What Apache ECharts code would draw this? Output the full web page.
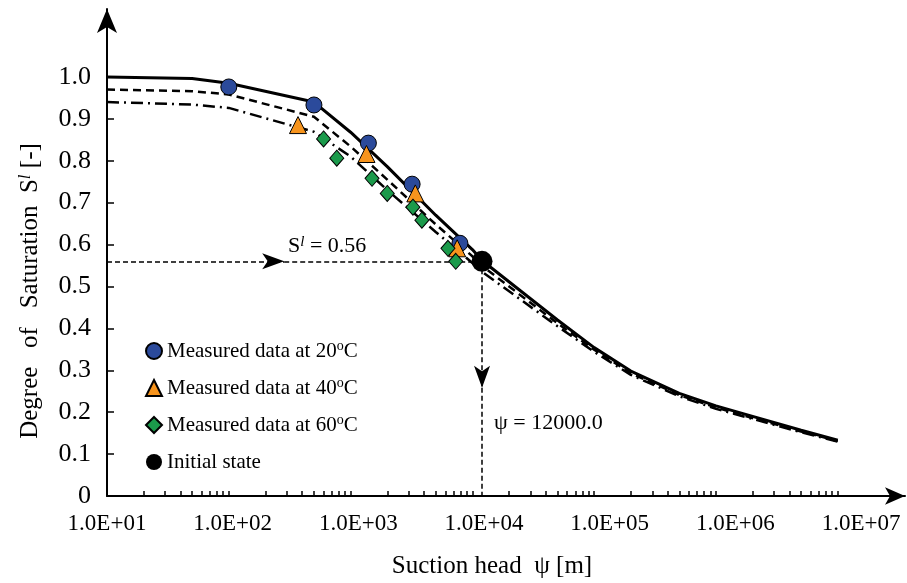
<!DOCTYPE html>
<html><head><meta charset="utf-8">
<script src="https://cdn.jsdelivr.net/npm/echarts@6/dist/echarts.min.js"></script>
<style>html,body{margin:0;padding:0;background:#fff}#c{width:907px;height:583px}</style>
</head><body><div id="c"></div>
<script>
// ---- data ----
const psiModel = [10, 50, 100, 500, 1000, 2000, 5000, 10000, 12000, 50000, 100000, 200000, 500000, 1000000, 2000000, 5000000, 10000000];
const s20Model = [1.000, 0.996, 0.985, 0.940, 0.868, 0.786, 0.670, 0.588, 0.562, 0.420, 0.354, 0.298, 0.245, 0.215, 0.190, 0.157, 0.133];
const s40Model = [0.970, 0.966, 0.958, 0.905, 0.834, 0.755, 0.648, 0.572, 0.549, 0.412, 0.349, 0.293, 0.241, 0.211, 0.186, 0.154, 0.131];
const s60Model = [0.940, 0.934, 0.926, 0.869, 0.810, 0.730, 0.630, 0.556, 0.535, 0.405, 0.344, 0.289, 0.238, 0.208, 0.184, 0.152, 0.130];

const psi20 = [100, 500, 1400, 3200, 7900];
const s20 = [0.976, 0.933, 0.842, 0.744, 0.603];
const psi40 = [370, 1350, 3400, 7500];
const s40 = [0.885, 0.816, 0.722, 0.591];
const psi60 = [600, 770, 1500, 2000, 3250, 3850, 6300, 7300];
const s60 = [0.852, 0.806, 0.758, 0.722, 0.689, 0.658, 0.591, 0.560];
const psiInit = [12000];
const sInit = [0.56];

const guideArrowPsi = 285;   // arrow tip on the horizontal guide
const guideArrowS = 0.258;   // arrow tip on the vertical guide
const xLabelValues = [1e1, 1e2, 1e3, 1e4, 1e5, 1e6, 1e7];
const xTickLabels = ['1.0E+01', '1.0E+02', '1.0E+03', '1.0E+04', '1.0E+05', '1.0E+06', '1.0E+07'];
const yTickValues = [0, 0.1, 0.2, 0.3, 0.4, 0.5, 0.6, 0.7, 0.8, 0.9, 1.0];
const yTickLabels = ['0', '0.1', '0.2', '0.3', '0.4', '0.5', '0.6', '0.7', '0.8', '0.9', '1.0'];

// minor ticks 2..10 x 10^k
const xMinorTicks = [];
for (let k = 1; k <= 6; k++) for (let m = 2; m <= 10; m++) xMinorTicks.push(m * Math.pow(10, k));

const zip = (a, b) => a.map((v, i) => [v, b[i]]);
const FONT = "'Liberation Serif','Times New Roman',serif";

const chart = echarts.init(document.getElementById('c'), null, {renderer: 'canvas'});
chart.setOption({
  backgroundColor: '#fff',
  animation: false,
  grid: {left: 107, right: 2, top: 9, bottom: 87},
  xAxis: [{
    type: 'log', logBase: 10, min: 10, max: Math.pow(10, 7.552),
    axisLine: {show: true, symbol: ['none', 'arrow'], symbolSize: [13, 20], lineStyle: {color: '#000', width: 2}},
    axisTick: {show: true, inside: true, length: 5, customValues: xMinorTicks, lineStyle: {color: '#000', width: 1.5}},
    axisLabel: {show: false},
    splitLine: {show: false}
  }, {
    type: 'log', logBase: 10, min: 10, max: Math.pow(10, 7.35), position: 'bottom',
    axisLine: {show: false}, axisTick: {show: false}, splitLine: {show: false},
    axisLabel: {show: true, customValues: xLabelValues, margin: 16, color: '#000', fontFamily: FONT, fontSize: 23,
      formatter: v => xTickLabels[Math.round(Math.log10(v)) - 1]}
  }],
  yAxis: {
    type: 'value', min: 0, max: 1.162,
    axisLine: {show: true, symbol: ['none', 'arrow'], symbolSize: [15, 24], lineStyle: {color: '#000', width: 2}},
    axisTick: {show: true, inside: true, length: 7, customValues: yTickValues, lineStyle: {color: '#000', width: 1.5}},
    axisLabel: {show: true, customValues: yTickValues, margin: 16, color: '#000', fontFamily: FONT, fontSize: 26,
      formatter: v => yTickLabels[Math.round(v * 10)]},
    splitLine: {show: false}
  },
  legend: {
    orient: 'vertical', left: 140, top: 334, itemGap: 13, itemWidth: 16, itemHeight: 16,
    data: ['Measured data at 20°C', 'Measured data at 40°C', 'Measured data at 60°C', 'Initial state'],
    formatter: name => name.replace(/(\d+)°C/, '$1{sup|o}C'),
    textStyle: {color: '#000', fontFamily: FONT, fontSize: 21, lineHeight: 24,
      rich: {sup: {fontFamily: FONT, fontSize: 14, color: '#000', verticalAlign: 'top', lineHeight: 12}}}
  },
  graphic: [
    {type: 'text', x: 30, y: 291, rotation: Math.PI / 2, z: 10,
      style: {text: 'Degree   of   Saturation  S{sup|l} [-]', fill: '#000', font: '25px ' + FONT, align: 'center', verticalAlign: 'middle',
        rich: {sup: {fontFamily: FONT, fontSize: 17, fontStyle: 'italic', verticalAlign: 'top', fill: '#000'}}}},
    {type: 'text', x: 492, y: 566, z: 10,
      style: {text: 'Suction head  ψ [m]', fill: '#000', font: '25px ' + FONT, align: 'center', verticalAlign: 'middle'}},
    {type: 'text', x: 288, y: 246, z: 10,
      style: {text: 'S{sup|l} = 0.56', fill: '#000', font: '22px ' + FONT, align: 'left', verticalAlign: 'middle',
        rich: {sup: {fontFamily: FONT, fontSize: 15, fontStyle: 'italic', verticalAlign: 'top', fill: '#000'}}}},
    {type: 'text', x: 494, y: 423, z: 10,
      style: {text: 'ψ = 12000.0', fill: '#000', font: '22px ' + FONT, align: 'left', verticalAlign: 'middle'}}
  ],
  series: [
    {name: 'model20', type: 'line', data: zip(psiModel, s20Model), symbol: 'none', z: 2,
      lineStyle: {color: '#000', width: 3}},
    {name: 'model40', type: 'line', data: zip(psiModel, s40Model), symbol: 'none', z: 2,
      lineStyle: {color: '#000', width: 2.5, type: [8, 5]}},
    {name: 'model60', type: 'line', data: zip(psiModel, s60Model), symbol: 'none', z: 2,
      lineStyle: {color: '#000', width: 2.5, type: [12, 5, 2, 5]}},
    {name: 'Measured data at 20°C', type: 'scatter', data: zip(psi20, s20), symbol: 'circle', symbolSize: 16, z: 5,
      itemStyle: {color: '#2b4a9b', borderColor: '#000', borderWidth: 1, opacity: 1}},
    {name: 'Measured data at 40°C', type: 'scatter', data: zip(psi40, s40), symbol: 'triangle', symbolSize: 17, z: 5,
      itemStyle: {color: '#f7941d', borderColor: '#000', borderWidth: 1, opacity: 1}},
    {name: 'Measured data at 60°C', type: 'scatter', data: zip(psi60, s60), symbol: 'diamond', symbolSize: [14, 16], z: 5,
      itemStyle: {color: '#1b9a4b', borderColor: '#000', borderWidth: 1, opacity: 1}},
    {name: 'Initial state', type: 'scatter', data: zip(psiInit, sInit), symbol: 'circle', symbolSize: 21, z: 6,
      itemStyle: {color: '#000', opacity: 1},
      markLine: {
        silent: true, animation: false, symbol: ['none', 'none'], z: 3,
        label: {show: false},
        lineStyle: {color: '#000', width: 1.5, type: [5, 3]},
        emphasis: {disabled: true},
        data: [
          [{coord: [10, sInit[0]]}, {coord: [guideArrowPsi, sInit[0]], symbol: 'arrow', symbolSize: [12, 22]}],
          [{coord: [guideArrowPsi, sInit[0]]}, {coord: [psiInit[0], sInit[0]]}],
          [{coord: [psiInit[0], sInit[0]]}, {coord: [psiInit[0], guideArrowS], symbol: 'arrow', symbolSize: [12, 22]}],
          [{coord: [psiInit[0], guideArrowS]}, {coord: [psiInit[0], 0]}]
        ]
      }}
  ]
});
</script></body></html>
